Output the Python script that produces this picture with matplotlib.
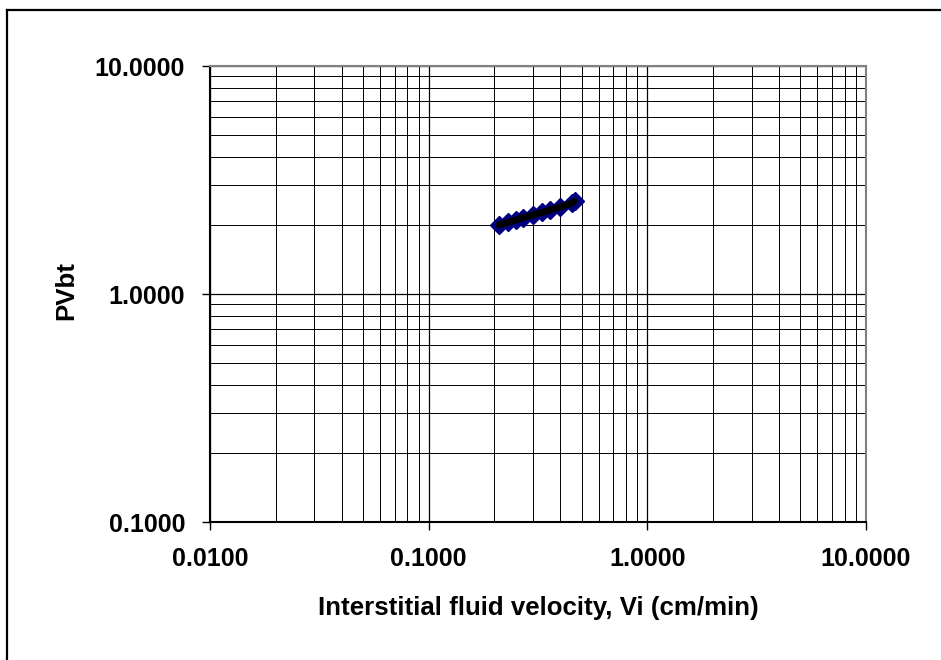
import matplotlib
matplotlib.use("Agg")
import matplotlib.pyplot as plt
from matplotlib.ticker import LogLocator, FixedLocator, NullFormatter, FuncFormatter
from matplotlib.lines import Line2D

plt.rcParams['font.family'] = ['Liberation Sans', 'DejaVu Sans']

velocity = [0.21, 0.23, 0.25, 0.27, 0.30, 0.33, 0.36, 0.40, 0.45, 0.465]
pvbt = [2.01, 2.06, 2.11, 2.16, 2.22, 2.28, 2.34, 2.41, 2.50, 2.55]
x_ticks = [0.01, 0.1, 1.0, 10.0]
y_ticks = [0.1, 1.0, 10.0]
x_label = "Interstitial fluid velocity, Vi (cm/min)"
y_label = "PVbt"

fig = plt.figure(figsize=(9.41, 6.6), dpi=100)
ax = fig.add_axes([210/941, 1-522/660, (866-210)/941, (522-66)/660])

# figure frame (only left/top edges visible in the reference)
x0 = 6.5/941
y0 = 1 - 9.5/660
fig.lines.append(Line2D([x0, x0], [0, y0], transform=fig.transFigure, color='black', linewidth=1.6))
fig.lines.append(Line2D([x0, 1.01], [y0, y0], transform=fig.transFigure, color='black', linewidth=1.6))

ax.set_xscale('log')
ax.set_yscale('log')
ax.set_xlim(0.01, 10)
ax.set_ylim(0.1, 10)

ax.xaxis.set_major_locator(FixedLocator(x_ticks))
ax.yaxis.set_major_locator(FixedLocator(y_ticks))
ax.xaxis.set_minor_locator(LogLocator(base=10, subs=range(2, 10)))
ax.yaxis.set_minor_locator(LogLocator(base=10, subs=range(2, 10)))
ax.xaxis.set_minor_formatter(NullFormatter())
ax.yaxis.set_minor_formatter(NullFormatter())
fmt = FuncFormatter(lambda v, p: f"{v:.4f}")
ax.xaxis.set_major_formatter(fmt)
ax.yaxis.set_major_formatter(fmt)

ax.grid(True, which='major', color='black', linewidth=0.9)
ax.grid(True, which='minor', color='black', linewidth=0.7)
ax.set_axisbelow(True)

ax.tick_params(which='major', direction='out', length=6, width=1, labelsize=18, pad=12)
ax.tick_params(which='minor', length=0)
for lab in ax.get_xticklabels() + ax.get_yticklabels():
    lab.set_fontweight('bold')

ax.spines['left'].set_color('black')
ax.spines['bottom'].set_color('black')
ax.spines['top'].set_color('#808080')
ax.spines['right'].set_color('#808080')
for s in ax.spines.values():
    s.set_linewidth(1.5)

ax.plot(velocity, pvbt, linestyle='none', marker='D', markersize=9,
        markerfacecolor='#000080', markeredgecolor='#000080', zorder=3)
ax.plot(velocity, pvbt, color='black', linewidth=5, zorder=4, solid_capstyle='round')

ax.set_xlabel(x_label, fontsize=18.6, fontweight='bold', labelpad=18)
ax.set_ylabel(y_label, fontsize=18.6, fontweight='bold', labelpad=0)
ax.yaxis.set_label_coords(78/941, 1 - 290/660, transform=fig.transFigure)

fig.savefig("out.png", dpi=100)
